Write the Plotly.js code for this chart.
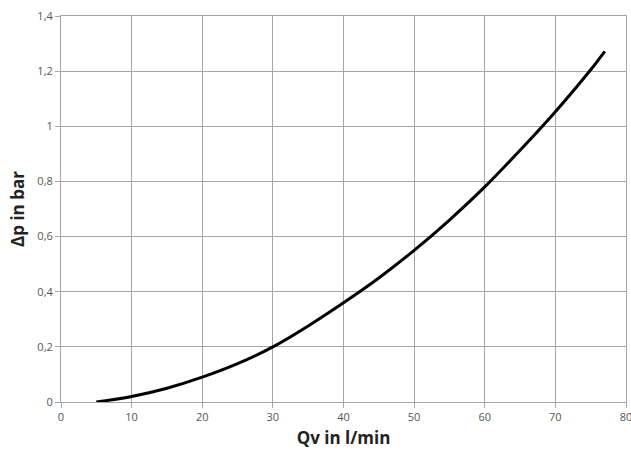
<!DOCTYPE html>
<html>
<head>
<meta charset="utf-8">
<script src="https://cdn.plot.ly/plotly-3.0.1.min.js"></script>
<style>html,body{margin:0;padding:0;background:#fff;}#chart{width:631px;height:452px;}</style>
</head>
<body>
<div id="chart"></div>
<script>
// Flow rate Qv (l/min)
const flowQv = [5, 10, 15, 20, 25, 30, 35, 40, 45, 50, 55, 60, 65, 70, 75, 77];
// Pressure drop Δp (bar)
const pressureDp = [0, 0.02, 0.05, 0.09, 0.139, 0.2, 0.276, 0.36, 0.45, 0.55, 0.66, 0.78, 0.913, 1.053, 1.205, 1.272];

const xTickVals = [0, 10, 20, 30, 40, 50, 60, 70, 80];
const xTickText = ["0", "10", "20", "30", "40", "50", "60", "70", "80"];
const yTickVals = [0, 0.2, 0.4, 0.6, 0.8, 1.0, 1.2, 1.4];
const yTickText = ["0", "0,2", "0,4", "0,6", "0,8", "1", "1,2", "1,4"];

const gridCol = "#a6a6a6";
const tickFont = {family: "Open Sans, Liberation Sans, sans-serif", size: 11, color: "#555"};
const titleFont = {family: "Open Sans, Liberation Sans, sans-serif", size: 17, color: "#222", weight: "bold"};

const trace = {
  x: flowQv,
  y: pressureDp,
  type: "scatter",
  mode: "lines",
  line: {color: "#000", width: 3, shape: "spline", smoothing: 1},
  hoverinfo: "skip"
};

const layout = {
  width: 631,
  height: 452,
  margin: {l: 61, r: 5, t: 16, b: 50},
  paper_bgcolor: "#fff",
  plot_bgcolor: "#fff",
  showlegend: false,
  xaxis: {
    range: [0, 80],
    tickvals: xTickVals,
    ticktext: xTickText,
    ticklabeloverflow: "allow",
    showgrid: true,
    gridcolor: gridCol,
    gridwidth: 1,
    zeroline: false,
    showline: true,
    linecolor: gridCol,
    linewidth: 1,
    mirror: true,
    ticks: "outside",
    ticklen: 5,
    tickcolor: gridCol,
    tickfont: tickFont,
    title: {text: "<b>Qv in l/min</b>", font: titleFont, standoff: 8}
  },
  yaxis: {
    range: [0, 1.4],
    tickvals: yTickVals,
    ticktext: yTickText,
    ticklabeloverflow: "allow",
    showgrid: true,
    gridcolor: gridCol,
    gridwidth: 1,
    zeroline: false,
    showline: true,
    linecolor: gridCol,
    linewidth: 1,
    mirror: true,
    ticks: "outside",
    ticklen: 5,
    tickcolor: gridCol,
    tickfont: tickFont,
    title: {text: "<b>Δp in bar</b>", font: titleFont, standoff: 8}
  }
};

Plotly.newPlot("chart", [trace], layout, {staticPlot: true, displayModeBar: false});
</script>
</body>
</html>
